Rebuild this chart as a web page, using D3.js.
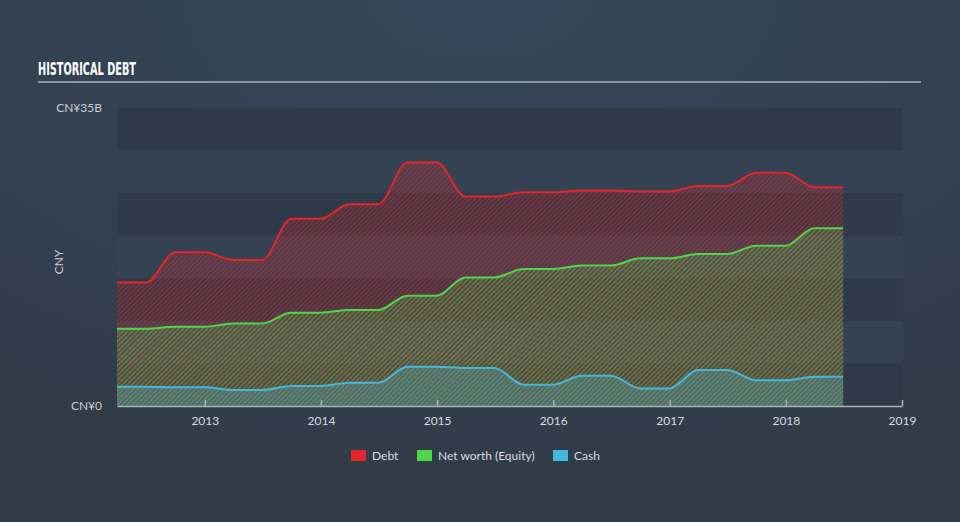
<!DOCTYPE html>
<html>
<head>
<meta charset="utf-8">
<script src="https://cdn.jsdelivr.net/npm/d3@7/dist/d3.min.js"></script>
<style>
  html, body { margin: 0; padding: 0; }
  body { width: 960px; height: 522px; overflow: hidden; background: #333f4e; }
  svg { display: block; }
</style>
</head>
<body>
<svg id="chart" width="960" height="522"></svg>
<script>
// ---- Data (CNY billions, quarter-end dates) ----
const dates = [
  "2012-03-31","2012-06-30","2012-09-30","2012-12-31",
  "2013-03-31","2013-06-30","2013-09-30","2013-12-31",
  "2014-03-31","2014-06-30","2014-09-30","2014-12-31",
  "2015-03-31","2015-06-30","2015-09-30","2015-12-31",
  "2016-03-31","2016-06-30","2016-09-30","2016-12-31",
  "2017-03-31","2017-06-30","2017-09-30","2017-12-31",
  "2018-03-31","2018-06-30"
];
const debt = [
  14.5, 14.5, 18.05, 18.05,
  17.15, 17.15, 22.0, 22.0,
  23.7, 23.7, 28.6, 28.6,
  24.6, 24.6, 25.1, 25.1,
  25.3, 25.3, 25.2, 25.2,
  25.85, 25.85, 27.4, 27.4,
  25.7, 25.7
];
const equity = [
  9.08, 9.08, 9.3, 9.3,
  9.7, 9.7, 10.96, 10.96,
  11.27, 11.27, 12.96, 12.96,
  15.1, 15.1, 16.09, 16.09,
  16.5, 16.5, 17.34, 17.34,
  17.85, 17.85, 18.83, 18.83,
  20.87, 20.87
];
const cash = [
  2.27, 2.27, 2.19, 2.19,
  1.88, 1.88, 2.35, 2.35,
  2.74, 2.74, 4.62, 4.62,
  4.46, 4.46, 2.5, 2.5,
  3.56, 3.56, 2.07, 2.07,
  4.23, 4.23, 3.01, 3.01,
  3.44, 3.44
];
const yTicks = [0, 35];
const xTickYears = [2013, 2014, 2015, 2016, 2017, 2018, 2019];
const seriesNames = ["Debt", "Net worth (Equity)", "Cash"];
const seriesColors = ["#e5262b", "#4fd64b", "#46b8dc"];

// ---- Layout ----
const svg = d3.select("#chart");
const W = 960, H = 522;
const pLeft = 117, pRight = 902, pTop = 108, pBottom = 406;

const parse = d3.timeParse("%Y-%m-%d");
const dts = dates.map(parse);

const x = d3.scaleTime()
  .domain([parse("2012-03-31"), new Date(2019, 0, 1)])
  .range([pLeft, pRight]);
const y = d3.scaleLinear().domain([0, 35]).range([pBottom, pTop]);

// background radial gradient
const defs = svg.append("defs");
const rg = defs.append("radialGradient").attr("id", "bg")
  .attr("cx", "50%").attr("cy", "0%").attr("r", "90%");
rg.append("stop").attr("offset", "0%").attr("stop-color", "#35465a");
rg.append("stop").attr("offset", "100%").attr("stop-color", "#313c49");
svg.append("rect").attr("width", W).attr("height", H).attr("fill", "url(#bg)");

// hatch patterns
const period = 3.4;
seriesColors.forEach((c, i) => {
  const p = defs.append("pattern")
    .attr("id", "hatch" + i)
    .attr("patternUnits", "userSpaceOnUse")
    .attr("width", period).attr("height", period)
    .attr("patternTransform", "rotate(45) translate(" + (i * 1.1) + ",0)");
  p.append("rect").attr("x", 0).attr("y", 0)
    .attr("width", period).attr("height", period)
    .attr("fill", c).attr("fill-opacity", 0.1);
  p.append("rect").attr("x", 0).attr("y", 0)
    .attr("width", 1.1).attr("height", period)
    .attr("fill", c).attr("fill-opacity", 0.55);
});

// horizontal bands
const bandStep = 5;
for (let v = 0; v < 35; v += bandStep) {
  const idx = v / bandStep;
  svg.append("rect")
    .attr("x", pLeft).attr("width", pRight - pLeft)
    .attr("y", y(v + bandStep)).attr("height", y(v) - y(v + bandStep))
    .attr("fill", idx % 2 === 0 ? "#2e3a48" : "#344253");
}

// Title
svg.append("text")
  .attr("x", 38).attr("y", 75)
  .attr("font-family", "'Liberation Sans Narrow', 'DejaVu Sans Condensed', sans-serif")
  .attr("font-weight", "bold")
  .attr("font-size", 18)
  .attr("fill", "#ffffff")
  .attr("textLength", 98)
  .attr("lengthAdjust", "spacingAndGlyphs")
  .text("HISTORICAL DEBT");
svg.append("line")
  .attr("x1", 38).attr("x2", 921).attr("y1", 82).attr("y2", 82)
  .attr("stroke", "#a9b1ba").attr("stroke-width", 1.5);

// Areas & lines
const series = [debt, equity, cash];
const curve = d3.curveMonotoneX;
series.forEach((vals, i) => {
  const pts = vals.map((v, j) => [dts[j], v]);
  const area = d3.area()
    .x(d => x(d[0])).y0(y(0)).y1(d => y(d[1])).curve(curve);
  svg.append("path").datum(pts)
    .attr("d", area)
    .attr("fill", "url(#hatch" + i + ")");
});
series.forEach((vals, i) => {
  const pts = vals.map((v, j) => [dts[j], v]);
  const line = d3.line()
    .x(d => x(d[0])).y(d => y(d[1])).curve(curve);
  svg.append("path").datum(pts)
    .attr("d", line)
    .attr("fill", "none")
    .attr("stroke", seriesColors[i])
    .attr("stroke-width", 2);
});

// X axis
const xAxis = d3.axisBottom(x)
  .tickValues(xTickYears.map(yy => new Date(yy, 0, 1)))
  .tickFormat(d3.timeFormat("%Y"))
  .tickSize(6).tickSizeOuter(0);
const gx = svg.append("g").attr("transform", "translate(0," + pBottom + ")").call(xAxis);
gx.select(".domain").attr("stroke", "#aab3bd").attr("stroke-width", 1.5);
gx.selectAll(".tick line").attr("stroke", "#aab3bd").attr("stroke-width", 1.5)
  .attr("y1", -6).attr("y2", 0);
gx.selectAll(".tick text")
  .attr("fill", "#d7dbe0").attr("font-size", 12)
  .attr("font-family", "Lato, 'Open Sans', sans-serif")
  .attr("dy", 0).attr("y", 19);

// Y labels
svg.selectAll(".ylab").data(yTicks).enter().append("text")
  .attr("x", 102).attr("y", d => y(d) + 4)
  .attr("text-anchor", "end")
  .attr("font-family", "Lato, 'Open Sans', sans-serif")
  .attr("font-size", 12)
  .attr("fill", "#c9ced4")
  .text(d => "CN¥" + (d === 0 ? "0" : d + "B"));
svg.append("text")
  .attr("transform", "translate(63,262) rotate(-90)")
  .attr("text-anchor", "middle")
  .attr("font-family", "Lato, 'Open Sans', sans-serif")
  .attr("font-size", 12)
  .attr("fill", "#c9ced4")
  .text("CNY");

// Legend
const legendX = [351, 417, 553];
seriesNames.forEach((n, i) => {
  svg.append("rect")
    .attr("x", legendX[i]).attr("y", 450)
    .attr("width", 15).attr("height", 11)
    .attr("fill", seriesColors[i]);
  svg.append("text")
    .attr("x", legendX[i] + 21).attr("y", 460)
    .attr("font-family", "Lato, 'Open Sans', sans-serif")
    .attr("font-size", 12)
    .attr("fill", "#d7dbe0")
    .text(n);
});
</script>
</body>
</html>
